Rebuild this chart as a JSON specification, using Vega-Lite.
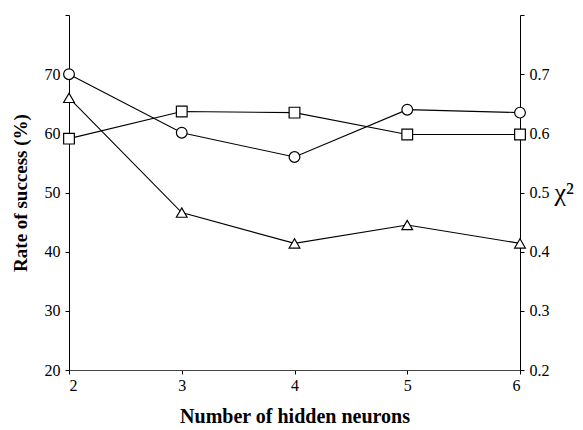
{
  "$schema": "https://vega.github.io/schema/vega-lite/v6.json",
  "width": 451,
  "height": 355,
  "autosize": "none",
  "padding": {"left": 69, "top": 15, "right": 63, "bottom": 60},
  "background": "white",
  "config": {
    "view": {"stroke": null},
    "font": "Liberation Serif",
    "axis": {
      "domainColor": "black",
      "tickColor": "black",
      "labelColor": "black",
      "titleColor": "black",
      "labelFont": "Liberation Serif",
      "titleFont": "Liberation Serif",
      "labelFontSize": 16,
      "grid": false,
      "tickSize": 4
    }
  },
  "data": {
    "values": [
      {"neurons": 2, "series": "A", "value": 70.0},
      {"neurons": 3, "series": "A", "value": 60.1},
      {"neurons": 4, "series": "A", "value": 56.0},
      {"neurons": 5, "series": "A", "value": 64.0},
      {"neurons": 6, "series": "A", "value": 63.5},
      {"neurons": 2, "series": "B", "value": 59.1},
      {"neurons": 3, "series": "B", "value": 63.7},
      {"neurons": 4, "series": "B", "value": 63.5},
      {"neurons": 5, "series": "B", "value": 59.8},
      {"neurons": 6, "series": "B", "value": 59.8},
      {"neurons": 2, "series": "C", "value": 66.0},
      {"neurons": 3, "series": "C", "value": 46.6},
      {"neurons": 4, "series": "C", "value": 41.4},
      {"neurons": 5, "series": "C", "value": 44.5},
      {"neurons": 6, "series": "C", "value": 41.4}
    ]
  },
  "layer": [
    {
      "layer": [
        {
          "mark": {"type": "line", "color": "black", "strokeWidth": 1.1},
          "encoding": {
            "x": {
              "field": "neurons", "type": "quantitative",
              "scale": {"domain": [2, 6]},
              "axis": {
                "values": [2, 3, 4, 5, 6], "format": "d",
                "title": "Number of hidden neurons",
                "titleFontSize": 20, "titleFontWeight": "bold",
                "labelPadding": 3, "titlePadding": 13,
                "domainColor": "#444"
              }
            },
            "y": {
              "field": "value", "type": "quantitative",
              "scale": {"domain": [20, 80]},
              "axis": {
                "orient": "left",
                "values": [20, 30, 40, 50, 60, 70, 80],
                "labelExpr": "datum.value == 80 ? '' : datum.label",
                "title": "Rate of success (%)",
                "titleFontSize": 19, "titleFontWeight": "bold",
                "labelPadding": 5, "titlePadding": 14
              }
            },
            "detail": {"field": "series"}
          }
        },
        {
          "mark": {"type": "point", "filled": true, "fill": "white", "stroke": "black", "strokeWidth": 1.2, "size": 115, "opacity": 1},
          "encoding": {
            "x": {"field": "neurons", "type": "quantitative"},
            "y": {"field": "value", "type": "quantitative"},
            "shape": {
              "field": "series", "type": "nominal",
              "scale": {"domain": ["A", "B", "C"], "range": ["circle", "square", "triangle-up"]},
              "legend": null
            }
          }
        }
      ]
    },
    {
      "mark": {"type": "point", "opacity": 0},
      "encoding": {
        "x": {"field": "neurons", "type": "quantitative"},
        "y": {
          "field": "value", "type": "quantitative",
          "scale": {"domain": [20, 80]},
          "axis": {
            "orient": "right",
            "values": [20, 30, 40, 50, 60, 70, 80],
            "labelExpr": "datum.value == 80 ? '' : format(datum.value / 100, '.1f')",
            "title": "χ²",
            "titleAngle": 0,
            "titleFontSize": 26,
            "titleFontWeight": "normal",
            "titleAlign": "left",
            "titleBaseline": "middle",
            "labelPadding": 5,
            "titlePadding": 5
          }
        }
      }
    }
  ],
  "resolve": {"scale": {"y": "independent"}}
}
